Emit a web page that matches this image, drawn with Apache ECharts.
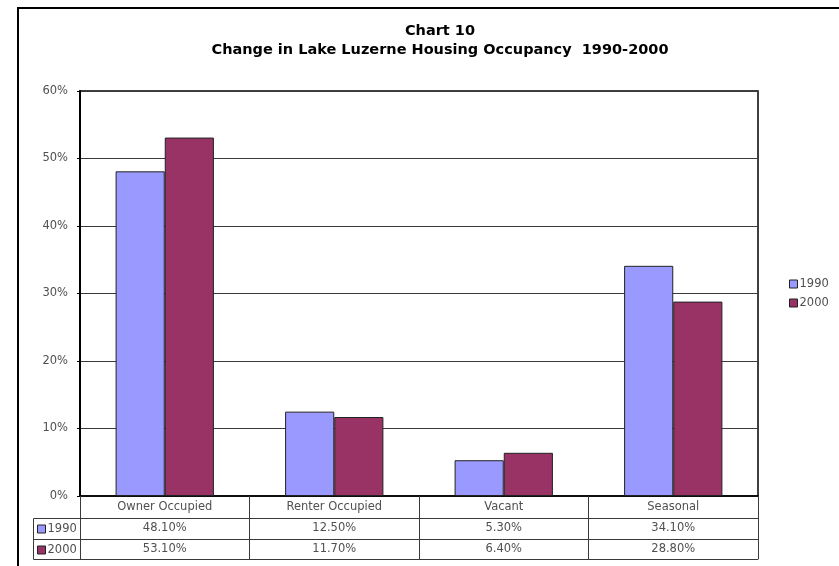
<!DOCTYPE html>
<html><head><meta charset="utf-8">
<script src="https://cdn.jsdelivr.net/npm/echarts@6/dist/echarts.min.js"></script>
<style>html,body{margin:0;padding:0;background:#fff}#c{width:839px;height:566px}</style>
</head><body><div id="c"></div>
<script>
const categories = ['Owner Occupied', 'Renter Occupied', 'Vacant', 'Seasonal'];
const seriesNames = ['1990', '2000'];
const values1990 = [48.1, 12.5, 5.3, 34.1];
const values2000 = [53.1, 11.7, 6.4, 28.8];
const yTicks = { min: 0, max: 60, interval: 10 };
const titleLines = ['Chart 10', 'Change in Lake Luzerne Housing Occupancy  1990-2000'];

const FONT = 'DejaVu Sans';
const TXT = '#505050';
const LINE = '#3a3a3a';
const FS = 11.5;
const fmt = v => v.toFixed(2) + '%';

const chart = echarts.init(document.getElementById('c'));
const tableAxis = (offset, vals, showLabel) => ({
  type: 'category', data: categories, gridIndex: 0, position: 'bottom', offset: offset,
  axisLine: { show: true, lineStyle: { color: LINE, width: 1 } },
  axisTick: { show: false },
  axisLabel: { show: showLabel, interval: 0, margin: 4, color: TXT, fontFamily: FONT, fontSize: FS,
    formatter: (v, i) => vals ? fmt(vals[i]) : v },
  splitLine: { show: false }
});
const legendText = { fontFamily: FONT, fontSize: FS, color: TXT, padding: [0, 0, 0, -3] };
chart.setOption({
  animation: false,
  textStyle: { fontFamily: FONT },
  title: {
    text: titleLines.join('\n'), left: 435, textAlign: 'center', top: 17,
    textStyle: { fontFamily: FONT, fontSize: 14.5, fontWeight: 'bold', color: '#000', lineHeight: 19 }
  },
  legend: [{
    data: seriesNames, orient: 'vertical', left: 789, top: 278, padding: 0, itemWidth: 8, itemHeight: 8, itemGap: 7,
    icon: 'rect', textStyle: legendText,
    itemStyle: { borderColor: '#222', borderWidth: 1 }
  }, {
    data: seriesNames, orient: 'vertical', left: 37, top: 523, padding: 0, itemWidth: 8, itemHeight: 8, itemGap: 9,
    icon: 'rect', textStyle: legendText,
    itemStyle: { borderColor: '#222', borderWidth: 1 }
  }],
  grid: { left: 80, top: 91, right: 81, bottom: 70, show: true, borderColor: '#000', borderWidth: 1.5, backgroundColor: 'transparent', containLabel: false },
  xAxis: [{
    type: 'category', data: categories, gridIndex: 0, position: 'bottom',
    axisLine: { show: true, lineStyle: { color: '#000', width: 1.5 } },
    axisTick: { show: true, interval: 0, length: 63, lineStyle: { color: LINE, width: 1 } },
    axisLabel: { interval: 0, margin: 5, color: TXT, fontFamily: FONT, fontSize: FS },
    splitLine: { show: false }
  },
    tableAxis(22, values1990, true),
    tableAxis(43, values2000, true),
    tableAxis(63, null, false)
  ],
  yAxis: {
    type: 'value', min: yTicks.min, max: yTicks.max, interval: yTicks.interval,
    axisLine: { show: true, lineStyle: { color: '#000', width: 2 } },
    axisTick: { show: true, length: 3, lineStyle: { color: '#000' } },
    axisLabel: { formatter: '{value}%', margin: 12, color: TXT, fontFamily: FONT, fontSize: FS },
    splitLine: { show: true, lineStyle: { color: LINE, width: 1 } }
  },
  series: [{
    name: seriesNames[0], type: 'bar', data: values1990, xAxisIndex: 0,
    barWidth: '29%', barGap: '0%',
    itemStyle: { color: '#9999FF', borderColor: '#222', borderWidth: 1 }
  }, {
    name: seriesNames[1], type: 'bar', data: values2000, xAxisIndex: 0,
    barWidth: '29%', barGap: '0%',
    itemStyle: { color: '#993366', borderColor: '#222', borderWidth: 1 }
  }],
  graphic: [
    { type: 'rect', shape: { x: 18, y: 8, width: 900, height: 700 }, style: { fill: null, stroke: '#000', lineWidth: 2 }, z: 100 },
    { type: 'rect', shape: { x: 33.5, y: 518.5, width: 47, height: 41 }, style: { fill: null, stroke: LINE, lineWidth: 1 } },
    { type: 'line', shape: { x1: 33.5, y1: 539.5, x2: 80.5, y2: 539.5 }, style: { stroke: LINE, lineWidth: 1 } }
  ]
});
</script></body></html>
